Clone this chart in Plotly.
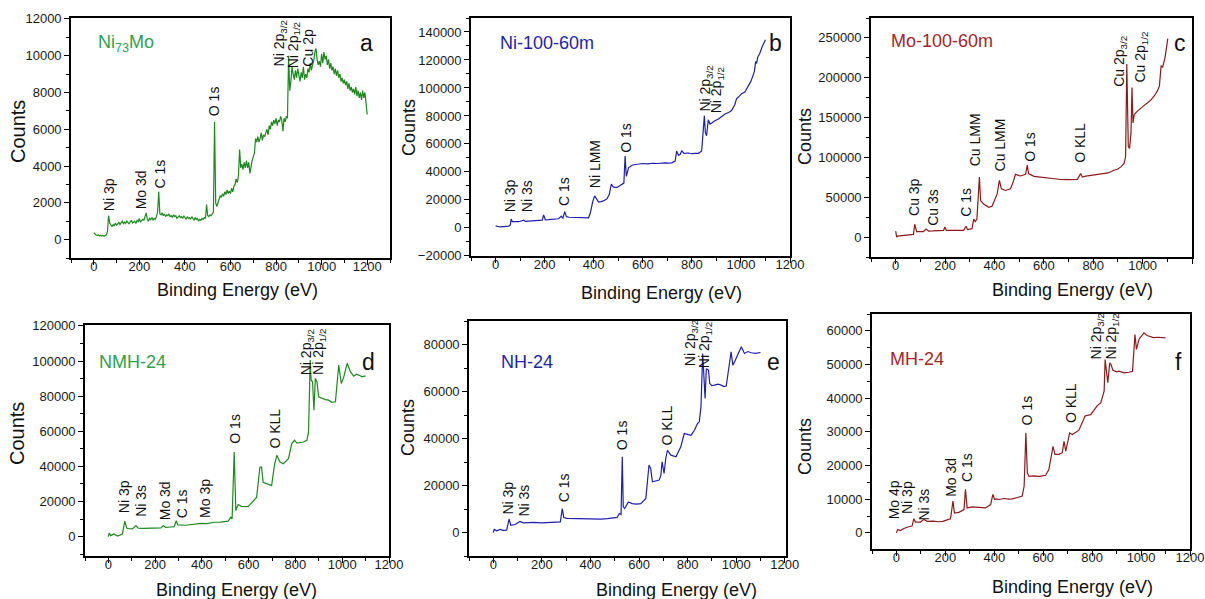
import plotly.graph_objects as go

# ---------------- survey spectra (binding energy in eV, counts) ----------------
A_E = [0, 5, 10, 15, 20, 25, 30, 35, 40, 45, 50, 55, 60, 65, 70, 75, 80, 85, 90, 95,
       100, 105, 110, 115, 120, 125, 130, 135, 140, 145, 150, 155, 160, 165, 170, 175, 180, 185, 190, 195,
       200, 205, 210, 215, 220, 225, 230, 235, 240, 245, 250, 255, 260, 265, 270, 275, 280, 285, 290, 295,
       300, 305, 310, 315, 320, 325, 330, 335, 340, 345, 350, 355, 360, 365, 370, 375, 380, 385, 390, 395,
       400, 405, 410, 415, 420, 425, 430, 435, 440, 445, 450, 455, 460, 465, 470, 475, 480, 485, 490, 495,
       500, 505, 510, 515, 520, 525, 530, 535, 540, 545, 550, 555, 560, 565, 570, 575, 580, 585, 590, 595,
       600, 605, 610, 615, 620, 625, 630, 635, 640, 645, 650, 655, 660, 665, 670, 675, 680, 685, 690, 695,
       700, 705, 710, 715, 720, 725, 730, 735, 740, 745, 750, 755, 760, 765, 770, 775, 780, 785, 790, 795,
       800, 805, 810, 815, 820, 825, 830, 835, 840, 845, 850, 855, 860, 865, 870, 875, 880, 885, 890, 895,
       900, 905, 910, 915, 920, 925, 930, 935, 940, 945, 950, 955, 960, 965, 970, 975, 980, 985, 990, 995,
       1000, 1005, 1010, 1015, 1020, 1025, 1030, 1035, 1040, 1045, 1050, 1055, 1060, 1065, 1070, 1075, 1080, 1085, 1090, 1095,
       1100, 1105, 1110, 1115, 1120, 1125, 1130, 1135, 1140, 1145, 1150, 1155, 1160, 1165, 1170, 1175, 1180, 1185, 1190, 1195, 1200]
A_C = [380, 300, 250, 230, 260, 200, 240, 190, 220, 180, 240, 260, 450, 1300, 900, 750, 700, 820, 760, 900,
       780, 850, 950, 820, 900, 1000, 870, 950, 880, 1000, 920, 860, 960, 1050, 900, 980, 1000, 880, 1050, 980,
       1150, 950, 1000, 1100, 1050, 1200, 1450, 1100, 1000, 1150, 1080, 1200, 1050, 1150, 1100, 1250, 1500, 2600, 1400, 1350,
       1450, 1300, 1400, 1250, 1350, 1300, 1400, 1250, 1300, 1200, 1350, 1250, 1300, 1150, 1250, 1300, 1200, 1250, 1150, 1300,
       1200, 1100, 1250, 1150, 1200, 1100, 1250, 1150, 1050, 1200, 1100, 1150, 1000, 1100, 1050, 1150, 1100, 1200, 1150, 1900,
       1300, 1250, 1350, 1300, 1400, 1500, 6400, 2000, 1800, 2100, 2200, 2400, 2300, 2500, 2350, 2600, 2450, 2700, 2500, 2650,
       2500, 2800, 2600, 2900, 3000, 3300, 3100, 3500, 4900, 3900, 4100, 3800, 4200, 3900, 4300, 3900, 4200, 3600, 4100, 4300,
       4500, 4700, 5500, 5300, 5600, 5300, 5500, 5800, 5400, 5700, 5600, 5800, 6000, 5700, 6200, 6000, 6400, 6200, 6500, 6300,
       6600, 6200, 6500, 6400, 6700, 6500, 5900, 6600, 6400, 6700, 6600, 10000, 8100, 8600, 9400, 9000, 8700, 9200, 8800, 9300,
       8900, 8600, 9100, 8800, 9400, 8700, 9000, 8800, 9300, 9100, 9600, 9200, 9500, 9700, 10200, 10400, 9800, 9500, 9700, 9400,
       10100, 9600, 10200, 9800, 10000, 9500, 9800, 9300, 9600, 9200, 9400, 9000, 9300, 8900, 9200, 8800, 9000, 8600, 8800, 8500,
       8700, 8400, 8600, 8200, 8500, 8100, 8300, 8000, 8200, 7900, 8300, 7800, 8100, 7700, 8000, 7600, 8100, 7700, 8000, 7500, 6800]

# (binding energy, counts) pairs for the remaining spectra
B_PTS = [(0, 1400), (5, 1000), (10, 900), (14, 800), (20, 700), (30, 700), (40, 900), (54, 1200), (60, 2000),
         (64, 6300), (68, 4500), (75, 4300), (85, 4500), (95, 4400), (108, 4800), (115, 5500), (122, 4600),
         (135, 4800), (150, 4900), (165, 5000), (180, 5100), (190, 5500), (196, 9200), (203, 5800), (215, 5900),
         (230, 6000), (245, 6200), (257, 6500), (268, 8400), (274, 6700), (282, 11600), (289, 8000), (300, 7600),
         (312, 7500), (325, 7400), (340, 7300), (350, 7300), (365, 7200), (379, 7200), (386, 10400), (396, 18800),
         (404, 22900), (411, 21200), (420, 18500), (430, 18800), (440, 19300), (454, 20700), (463, 23600),
         (472, 31300), (478, 29600), (485, 29000), (495, 28900), (503, 29800), (512, 30800), (523, 32000),
         (528, 51300), (533, 36900), (542, 42900), (556, 44800), (570, 45300), (583, 45800), (600, 46000),
         (620, 45800), (640, 46200), (660, 46000), (680, 46400), (691, 46500), (705, 46300), (718, 46500),
         (732, 47700), (738, 54900), (745, 52000), (752, 52500), (759, 55000), (768, 53300), (786, 53500),
         (800, 53000), (815, 53300), (827, 53300), (840, 55000), (847, 68200), (851, 80200), (855, 68200),
         (860, 65800), (867, 77300), (874, 74200), (881, 74900), (894, 76600), (910, 78000), (935, 81400),
         (950, 82500), (962, 83900), (975, 88000), (982, 92300), (990, 93500), (1003, 95900), (1016, 97100),
         (1030, 101400), (1040, 104500), (1050, 109200), (1055, 112000), (1060, 118800), (1064, 117500),
         (1068, 121700), (1077, 124800), (1087, 129600), (1095, 133200), (1100, 134500)]

C_PTS = [(0, 7600), (2, 1000), (4, 0), (7, 1300), (20, 1800), (40, 2500), (60, 3000), (72, 3400), (77, 16100),
         (85, 6800), (95, 6800), (112, 6800), (123, 10200), (133, 7600), (150, 7700), (170, 8000), (194, 8500),
         (199, 12700), (205, 8500), (230, 8300), (255, 8600), (275, 8500), (285, 13600), (291, 9300),
         (309, 10600), (316, 22500), (322, 19500), (329, 22500), (339, 75400), (344, 45800), (356, 41500),
         (377, 37300), (390, 38600), (411, 54200), (420, 71200), (428, 60600), (444, 58500), (465, 60600),
         (478, 71200), (485, 78800), (505, 76700), (526, 78800), (533, 90300), (538, 79700), (560, 76300),
         (580, 75500), (600, 74800), (627, 73300), (650, 72800), (670, 72300), (695, 72000), (715, 72200),
         (736, 72500), (749, 79700), (756, 75400), (770, 76500), (790, 77500), (810, 78000), (831, 78800),
         (860, 80500), (885, 83900), (900, 85500), (912, 88100), (925, 92400), (931, 100800), (936, 217400),
         (942, 113600), (947, 111400), (953, 130500), (957, 187700), (961, 143200), (966, 153800),
         (980, 158500), (993, 162300), (1005, 165000), (1020, 168600), (1035, 172500), (1047, 177100),
         (1060, 183500), (1068, 189800), (1075, 215300), (1081, 213100), (1091, 225800), (1102, 249200)]

D_PTS = [(0, 0), (3, 2100), (10, 600), (24, 1500), (39, 400), (60, 1500), (70, 8800), (79, 4800), (90, 4500),
         (103, 4400), (118, 6300), (128, 4800), (150, 4700), (182, 4800), (205, 4900), (225, 5000), (235, 6300),
         (244, 5300), (265, 5500), (282, 5700), (290, 9100), (297, 6700), (330, 6500), (368, 6900), (397, 7600),
         (420, 7400), (454, 8200), (480, 8300), (512, 8800), (523, 11000), (529, 10100), (538, 48200),
         (545, 14900), (555, 18300), (569, 17300), (598, 17100), (612, 19000), (634, 22500), (648, 39600),
         (655, 39600), (662, 31000), (684, 30100), (698, 29100), (710, 40600), (720, 46300), (734, 42500),
         (748, 41500), (770, 44400), (784, 53000), (796, 54900), (806, 53300), (820, 53600), (834, 53900),
         (849, 54900), (856, 59600), (863, 100600), (867, 89100), (873, 88200), (879, 72000), (885, 90100),
         (892, 88200), (899, 79600), (913, 78700), (928, 78000), (942, 77700), (956, 76500), (971, 76800),
         (985, 97700), (996, 87200), (1006, 90700), (1021, 98700), (1035, 93900), (1049, 91400),
         (1060, 92500), (1071, 92000), (1085, 91000), (1100, 91500)]

E_PTS = [(0, 0), (4, 1300), (14, 700), (28, 1300), (40, 900), (55, 1000), (65, 5700), (72, 3100), (90, 3400),
         (110, 4700), (124, 4100), (145, 4200), (166, 4300), (200, 4100), (234, 4300), (260, 4400), (276, 4500),
         (284, 10200), (290, 6400), (303, 6000), (330, 5900), (372, 5800), (400, 5900), (441, 5700), (470, 5900),
         (510, 6400), (519, 8100), (526, 7700), (531, 32200), (535, 10900), (541, 10200), (556, 13000),
         (572, 12300), (590, 12100), (607, 12300), (628, 14500), (641, 28700), (648, 27200), (655, 21600),
         (670, 22000), (683, 22300), (690, 24400), (695, 30100), (703, 25100), (710, 31500), (717, 35000),
         (731, 32900), (752, 32200), (772, 36500), (786, 42100), (800, 41700), (814, 41400), (828, 43500),
         (841, 46400), (848, 47100), (855, 53500), (862, 76200), (868, 66200), (872, 57000), (877, 69700),
         (886, 69100), (891, 63400), (900, 62500), (910, 62700), (925, 63100), (938, 62700), (950, 62100),
         (959, 62300), (979, 76900), (986, 71200), (993, 72600), (1021, 79000), (1034, 76200), (1048, 77000),
         (1062, 76500), (1080, 76200), (1100, 76600)]

F_PTS = [(0, 0), (5, 1000), (16, 700), (30, 1300), (50, 1800), (64, 2000), (71, 4200), (78, 3200), (98, 3200),
         (112, 4000), (126, 3400), (150, 3500), (173, 3300), (190, 3400), (201, 3700), (221, 4200), (231, 9400),
         (237, 5900), (255, 6100), (276, 6900), (282, 12900), (289, 7400), (310, 7700), (335, 7500), (364, 7400),
         (385, 8400), (394, 11400), (401, 9900), (408, 10100), (419, 9900), (440, 10200), (460, 10000),
         (473, 10100), (495, 10500), (514, 10900), (522, 13900), (529, 29700), (535, 17800), (542, 16800),
         (560, 16900), (585, 16800), (610, 17100), (623, 18800), (640, 25700), (648, 23300), (664, 23300),
         (678, 23800), (685, 27200), (692, 24300), (708, 29700), (719, 29200), (746, 30500), (771, 34700),
         (794, 35100), (821, 37800), (835, 38600), (849, 42100), (853, 51500), (858, 48000), (864, 44600),
         (872, 50500), (877, 50000), (885, 48300), (900, 47800), (910, 48000), (930, 47500), (951, 47700),
         (965, 48000), (975, 58900), (981, 54500), (992, 57600), (1012, 59400), (1025, 58600), (1033, 58400),
         (1050, 58000), (1070, 58100), (1100, 57900)]

# peak assignments: (label, binding energy, counts at label foot)
A_LABELS = [("Ni 3p", 64, 1430), ("Mo 3d", 207, 1560), ("C 1s", 290, 2690), ("O 1s", 531, 6590),
            ("Ni 2p<sub>3/2</sub>", 818, 9320), ("Ni 2p<sub>1/2</sub>", 876, 9230), ("Cu 2p", 942, 9320)]
B_LABELS = [("Ni 3p", 58, 9900), ("Ni 3s", 129, 9900), ("C 1s", 280, 14000), ("Ni LMM", 404, 26700),
            ("O 1s", 533, 52500), ("Ni 2p<sub>3/2</sub>", 856, 81400), ("Ni 2p<sub>1/2</sub>", 901, 80200)]
C_LABELS = [("Cu 3p", 76, 24600), ("Cu 3s", 150, 11900), ("C 1s", 285, 22500), ("Cu LMM", 322, 86000),
            ("Cu LMM", 424, 79700), ("O 1s", 546, 91500), ("O KLL", 745, 90300),
            ("Cu 2p<sub>3/2</sub>", 909, 185600), ("Cu 2p<sub>1/2</sub>", 993, 192000)]
D_LABELS = [("Ni 3p", 67, 12000), ("Ni 3s", 139, 10100), ("Mo 3d", 240, 8200), ("C 1s", 318, 9500),
            ("Mo 3p", 415, 9500), ("O 1s", 543, 52000), ("O KLL", 713, 49100),
            ("Ni 2p<sub>3/2</sub>", 849, 90700), ("Ni 2p<sub>1/2</sub>", 903, 90700)]
E_LABELS = [("Ni 3p", 62, 6700), ("Ni 3s", 127, 6000), ("C 1s", 290, 12100), ("O 1s", 531, 34300),
            ("O KLL", 713, 36400), ("Ni 2p<sub>3/2</sub>", 817, 69800), ("Ni 2p<sub>1/2</sub>", 872, 69100)]
F_LABELS = [("Mo 4p", -11, 3500), ("Ni 3p", 41, 5000), ("Ni 3s", 112, 3000), ("Mo 3d", 225, 10100),
            ("C 1s", 289, 14400), ("O 1s", 532, 31200), ("O KLL", 716, 31900),
            ("Ni 2p<sub>3/2</sub>", 821, 51000), ("Ni 2p<sub>1/2</sub>", 883, 51000)]

SAMPLES = ["Ni<sub>73</sub>Mo", "Ni-100-60m", "Mo-100-60m", "NMH-24", "NH-24", "MH-24"]
LETTERS = ["a", "b", "c", "d", "e", "f"]


def split(points):
    return [p[0] for p in points], [p[1] for p in points]


B_E, B_C = split(B_PTS)
C_E, C_C = split(C_PTS)
D_E, D_C = split(D_PTS)
E_E, E_C = split(E_PTS)
F_E, F_C = split(F_PTS)

# ---------------- styling / layout ----------------
W, H = 1205, 599
FONT = "Liberation Sans, Arial, sans-serif"
GREEN, GREEN_TXT = "#1c8a1c", "#2f9f4f"
BLUE, BLUE_TXT = "#1f1fae", "#2323a8"
RED, RED_TXT = "#8c1a1a", "#a3262a"

panels = [
    dict(E=A_E, C=A_C, labels=A_LABELS, line=GREEN, txt=GREEN_TXT,
         box=(71, 390, 18, 258), xr=[-100, 1300], yr=[-1000, 12050], dy=2000,
         name_xy=(96, 43), letter_xy=(367, 43), xt_xy=(237, 290), yt_xy=(18, 132), ysize=20),
    dict(E=B_E, C=B_C, labels=B_LABELS, line=BLUE, txt=BLUE_TXT,
         box=(471, 790, 18, 256), xr=[-100, 1200], yr=[-20100, 150000], dy=20000,
         name_xy=(498, 43), letter_xy=(775, 43), xt_xy=(661, 293), yt_xy=(409, 128), ysize=18),
    dict(E=C_E, C=C_C, labels=C_LABELS, line=RED, txt=RED_TXT,
         box=(871, 1192, 18, 257), xr=[-100, 1200], yr=[-25000, 275000], dy=50000,
         name_xy=(889, 41), letter_xy=(1180, 43), xt_xy=(1072, 290), yt_xy=(805, 137), ysize=18),
    dict(E=D_E, C=D_C, labels=D_LABELS, line=GREEN, txt=GREEN_TXT,
         box=(85, 389, 325, 556), xr=[-100, 1200], yr=[-11000, 120500], dy=20000,
         name_xy=(97, 362), letter_xy=(368, 362), xt_xy=(236, 590), yt_xy=(17, 434), ysize=20),
    dict(E=E_E, C=E_C, labels=E_LABELS, line=BLUE, txt=BLUE_TXT,
         box=(469, 786, 321, 556), xr=[-100, 1205], yr=[-10000, 90000], dy=20000,
         name_xy=(499, 362), letter_xy=(773, 362), xt_xy=(676, 590), yt_xy=(408, 428), ysize=18),
    dict(E=F_E, C=F_C, labels=F_LABELS, line=RED, txt=RED_TXT,
         box=(872, 1190, 314, 549), xr=[-100, 1200], yr=[-4800, 65000], dy=10000,
         name_xy=(888, 359), letter_xy=(1178, 362), xt_xy=(1072, 587), yt_xy=(805, 447), ysize=18),
]


def px(x):
    return x / W


def py(y):
    return 1 - y / H


fig = go.Figure()
annotations = []
layout_axes = {}

for i, p in enumerate(panels):
    n = "" if i == 0 else str(i + 1)
    xref, yref = "x" + n, "y" + n
    x0, x1, y0, y1 = p["box"]

    fig.add_trace(go.Scatter(x=p["E"], y=p["C"], mode="lines",
                             line=dict(color=p["line"], width=1.2),
                             xaxis=xref, yaxis=yref, showlegend=False,
                             hoverinfo="x+y"))

    common = dict(showline=True, linecolor="black", linewidth=1.6, mirror=True,
                  ticks="outside", ticklen=5, tickwidth=1.3, tickcolor="black",
                  showgrid=False, zeroline=False, automargin=False, tickformat="d",
                  tickfont=dict(family=FONT, size=13, color="#1a1a1a"))
    layout_axes["xaxis" + n] = dict(common, domain=[px(x0), px(x1)], range=p["xr"],
                                    anchor=yref, tick0=0, dtick=200, ticklabelstandoff=-9,
                                    minor=dict(ticks="outside", ticklen=3, tickcolor="black",
                                               tickwidth=1.1, dtick=100, tick0=0, showgrid=False))
    layout_axes["yaxis" + n] = dict(common, domain=[py(y1), py(y0)], range=p["yr"],
                                    anchor=xref, tick0=0, dtick=p["dy"],
                                    minor=dict(ticks="outside", ticklen=3, tickcolor="black",
                                               tickwidth=1.1, dtick=p["dy"] / 2, tick0=0,
                                               showgrid=False))

    # peak assignments, written vertically above each feature
    for text, e, c in p["labels"]:
        annotations.append(dict(text=text, x=e, y=c, xref=xref, yref=yref,
                                textangle=-90, xanchor="center", yanchor="bottom",
                                showarrow=False,
                                font=dict(family=FONT, size=14, color="#111111")))

    # sample name and panel letter
    nx, ny = p["name_xy"]
    annotations.append(dict(text=SAMPLES[i], x=px(nx), y=py(ny), xref="paper", yref="paper",
                            xanchor="left", yanchor="middle", showarrow=False,
                            font=dict(family=FONT, size=18, color=p["txt"])))
    lx, ly = p["letter_xy"]
    annotations.append(dict(text=LETTERS[i], x=px(lx), y=py(ly), xref="paper", yref="paper",
                            xanchor="center", yanchor="middle", showarrow=False,
                            font=dict(family=FONT, size=23, color="#111111")))

    # axis titles
    tx, ty = p["xt_xy"]
    annotations.append(dict(text="Binding Energy (eV)", x=px(tx), y=py(ty),
                            xref="paper", yref="paper", xanchor="center", yanchor="middle",
                            showarrow=False, font=dict(family=FONT, size=18, color="#111111")))
    cx, cy = p["yt_xy"]
    annotations.append(dict(text="Counts", x=px(cx), y=py(cy), xref="paper", yref="paper",
                            xanchor="center", yanchor="middle", textangle=-90,
                            showarrow=False, font=dict(family=FONT, size=p["ysize"], color="#111111")))

fig.update_layout(template="none", width=W, height=H, margin=dict(l=0, r=0, t=0, b=0),
                  autosize=False, paper_bgcolor="white", plot_bgcolor="white",
                  font=dict(family=FONT, size=13, color="#111111"),
                  annotations=annotations, **layout_axes)

fig.write_html("out.html")
